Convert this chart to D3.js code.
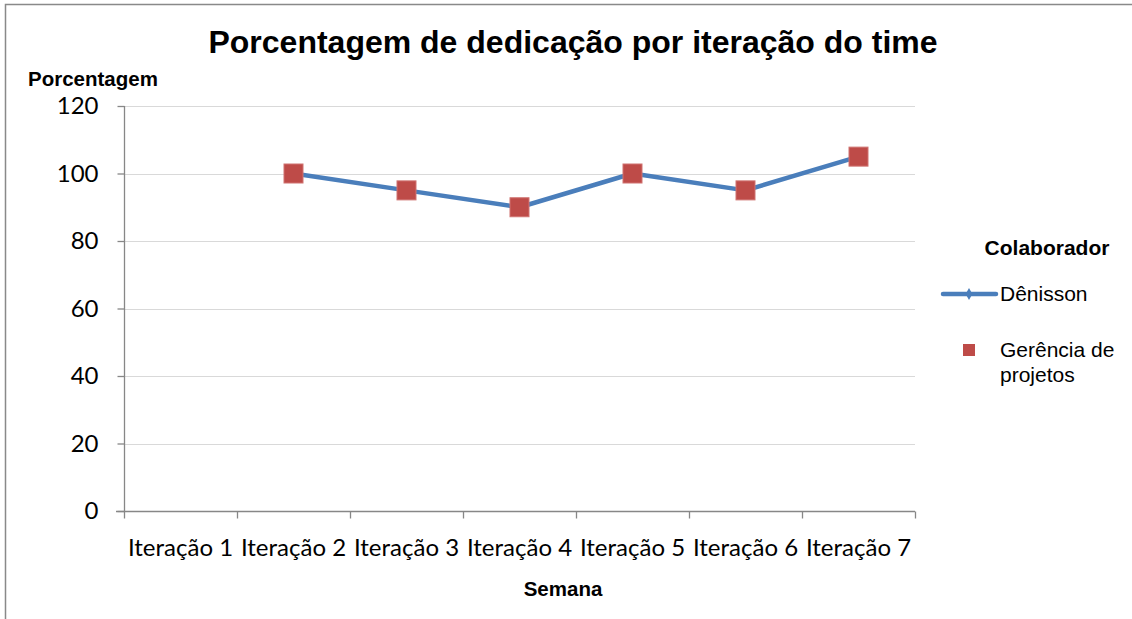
<!DOCTYPE html>
<html>
<head>
<meta charset="utf-8">
<script src="https://d3js.org/d3.v7.min.js"></script>
<style>
  body { margin: 0; background: #fff; }
</style>
</head>
<body>
<div id="chart"></div>
<script>
// data
const categories = ["Iteração 1", "Iteração 2", "Iteração 3", "Iteração 4", "Iteração 5", "Iteração 6", "Iteração 7"];
const denissonValues = [null, 100, 95, 90, 100, 95, 105];
const yTicks = [0, 20, 40, 60, 80, 100, 120];
const seriesNames = ["Dênisson", "Gerência de projetos"];

const width = 1132, height = 619;
const margin = { left: 124, right: 217, top: 106, bottom: 108 };
const sans = "'Liberation Sans', Arial, sans-serif";
const tickFont = "Lato, 'Open Sans', sans-serif";

const svg = d3.select("#chart").append("svg")
    .attr("width", width)
    .attr("height", height)
    .attr("font-family", sans);

// outer frame
svg.append("path")
    .attr("d", `M5.5,${height} V4.5 H${width}`)
    .attr("fill", "none")
    .attr("stroke", "#898989")
    .attr("stroke-width", 1.5);

const x = d3.scaleBand()
    .domain(categories)
    .range([margin.left, width - margin.right]);

const y = d3.scaleLinear()
    .domain([0, 120])
    .range([height - margin.bottom, margin.top]);

// gridlines
svg.append("g")
    .selectAll("line")
    .data(yTicks.filter(d => d > 0))
    .join("line")
    .attr("x1", margin.left)
    .attr("x2", width - margin.right)
    .attr("y1", d => Math.round(y(d)) + 0.5)
    .attr("y2", d => Math.round(y(d)) + 0.5)
    .attr("stroke", "#d9d9d9")
    .attr("stroke-width", 1.2);

// y axis
const yAxis = svg.append("g")
    .attr("transform", `translate(${margin.left + 0.5},0)`)
    .call(d3.axisLeft(y).tickValues(yTicks).tickSize(7).tickPadding(19));
yAxis.selectAll("path, line").attr("stroke", "#878787").attr("stroke-width", 1.3);
yAxis.select(".domain").attr("d", `M0,${y(120)}V${y(0)}`);
yAxis.selectAll("text")
    .attr("font-family", tickFont)
    .attr("font-size", 24)
    .attr("fill", "#000");

// x axis with ticks on category boundaries
const xAxisG = svg.append("g")
    .attr("transform", `translate(0,${Math.round(y(0)) + 0.5})`);
xAxisG.append("line")
    .attr("x1", margin.left - 8).attr("x2", width - margin.right)
    .attr("stroke", "#878787").attr("stroke-width", 1.3);
const bounds = categories.map(c => x(c)).concat([x(categories[categories.length - 1]) + x.bandwidth()]);
xAxisG.selectAll(".tk")
    .data(bounds)
    .join("line")
    .attr("class", "tk")
    .attr("x1", d => Math.round(d) + 0.5).attr("x2", d => Math.round(d) + 0.5)
    .attr("y1", 0).attr("y2", 7)
    .attr("stroke", "#878787").attr("stroke-width", 1.3);
xAxisG.selectAll(".lbl")
    .data(categories)
    .join("text")
    .attr("class", "lbl")
    .attr("x", d => x(d) + x.bandwidth() / 2)
    .attr("y", 44)
    .attr("text-anchor", "middle")
    .attr("font-family", tickFont)
    .attr("font-size", 24)
    .text(d => d);

// series
const pts = categories.map((c, i) => ({ c, v: denissonValues[i] })).filter(d => d.v !== null);

svg.append("path")
    .datum(pts)
    .attr("fill", "none")
    .attr("stroke", "#4a7ebb")
    .attr("stroke-width", 4.5)
    .attr("stroke-linejoin", "round")
    .attr("d", d3.line().x(d => x(d.c) + x.bandwidth() / 2).y(d => y(d.v)));

const sq = 19;
svg.append("g")
    .selectAll("rect")
    .data(pts)
    .join("rect")
    .attr("x", d => x(d.c) + x.bandwidth() / 2 - sq / 2)
    .attr("y", d => y(d.v) - sq / 2)
    .attr("width", sq)
    .attr("height", sq)
    .attr("fill", "#be4b48")
    .attr("stroke", "#d07370")
    .attr("stroke-width", 1);

// titles
svg.append("text")
    .attr("x", 573).attr("y", 53)
    .attr("text-anchor", "middle")
    .attr("font-size", 32)
    .attr("font-weight", "bold")
    .text("Porcentagem de dedicação por iteração do time");

svg.append("text")
    .attr("x", 93).attr("y", 86)
    .attr("text-anchor", "middle")
    .attr("font-size", 20.5)
    .attr("font-weight", "bold")
    .text("Porcentagem");

svg.append("text")
    .attr("x", 563).attr("y", 596)
    .attr("text-anchor", "middle")
    .attr("font-size", 20.5)
    .attr("font-weight", "bold")
    .text("Semana");

// legend
const lg = svg.append("g");
lg.append("text")
    .attr("x", 1047).attr("y", 255)
    .attr("text-anchor", "middle")
    .attr("font-size", 21)
    .attr("font-weight", "bold")
    .text("Colaborador");

lg.append("line")
    .attr("x1", 943).attr("x2", 996)
    .attr("y1", 294).attr("y2", 294)
    .attr("stroke", "#4a7ebb").attr("stroke-width", 4.5).attr("stroke-linecap", "round");
lg.append("path")
    .attr("d", d3.symbol(d3.symbolDiamond, 40)())
    .attr("transform", "translate(969,294)")
    .attr("fill", "#4a7ebb");
lg.append("text")
    .attr("x", 1000).attr("y", 301)
    .attr("font-size", 21)
    .text(seriesNames[0]);

lg.append("rect")
    .attr("x", 963).attr("y", 344)
    .attr("width", 12).attr("height", 12)
    .attr("fill", "#be4b48");
lg.append("text")
    .attr("x", 1000).attr("y", 357)
    .attr("font-size", 21)
    .text("Gerência de");
lg.append("text")
    .attr("x", 1000).attr("y", 382)
    .attr("font-size", 21)
    .text("projetos");
</script>
</body>
</html>
